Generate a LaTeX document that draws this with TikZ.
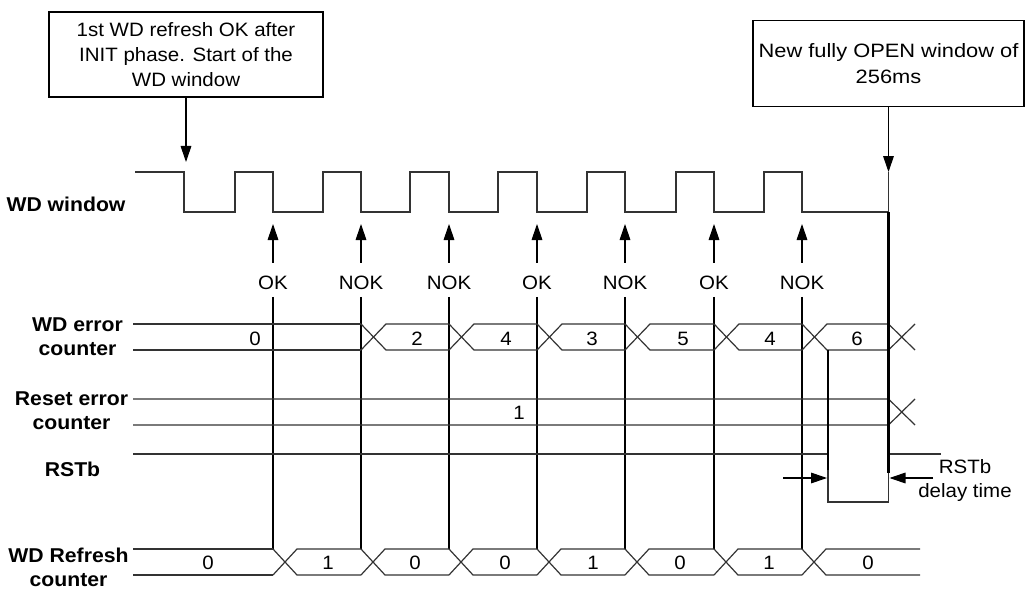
\documentclass[tikz,border=0pt]{standalone}
\usepackage{fontspec}
\setmainfont{Liberation Sans}[FakeStretch=1.06]
\newfontfamily\widefont{Liberation Sans}[FakeStretch=1.13]
\usetikzlibrary{arrows.meta}
\begin{document}
\begin{tikzpicture}[x=0.75pt,y=-0.75pt,
  sig/.style={line width=0.9pt, draw=black!80, line join=miter},
  vline/.style={line width=1.7pt, draw=black},
  arr/.style={-{Triangle[length=12pt,width=8pt]}, line width=0.8pt, draw=black},
  lab/.style={font=\fontsize{15}{18}\selectfont\bfseries, align=center, inner sep=0pt},
  txt/.style={font=\fontsize{14.5}{18}\selectfont, inner sep=0pt},
  box/.style={draw, line width=0.8pt, align=center, inner sep=0pt,
    font=\fontsize{14.5}{18.75}\selectfont}
]
\useasboundingbox (0,0) rectangle (1029,592);

% callout boxes
\node[box, minimum width=205.5pt, minimum height=63.75pt] (b1) at (186,54.5)
  {1st WD refresh OK after\\INIT phase. Start of the\\WD window};
\node[box, minimum width=203.25pt, minimum height=64.5pt,
  font=\fontsize{14.5}{19.5}\selectfont\widefont] (b2) at (888.5,63.7)
  {New fully OPEN window of\\256ms};
\coordinate (t1) at (186,162);
\coordinate (t2) at (888.5,172);
\draw[arr] (b1.south) -- (t1);
\draw[arr] (b2.south) -- (t2);

% row labels
\node[lab] (lw) at (66,204) {WD window};
\node[lab] (le) at (77.5,337) {WD error\\counter};
\node[lab] (lr) at (71.5,410.5) {Reset error\\counter};
\node[lab] (ls) at (72.5,469) {RSTb};
\node[lab] (lf) at (68.5,567) {WD Refresh\\counter};

% WD window signal
\draw[sig] (135,172) -- (184,172) -- (184,212) -- (235,212) -- (235,172)
  -- (273,172) -- (273,212) -- (323,212) -- (323,172) -- (361,172) -- (361,212)
  -- (410,212) -- (410,172) -- (449,172) -- (449,212) -- (498,212) -- (498,172)
  -- (537,172) -- (537,212) -- (587,212) -- (587,172) -- (625,172) -- (625,212)
  -- (676,212) -- (676,172) -- (714,172) -- (714,212) -- (764,212) -- (764,172)
  -- (802,172) -- (802,212) -- (888.5,212) -- (888.5,172);

% OK / NOK markers
\foreach \x/\l [count=\i] in {273/OK,361/NOK,449/NOK,537/OK,625/NOK,714/OK,802/NOK}{
  \node[txt] (m\i) at (\x,283) {\l};
  \coordinate (u\i) at (\x,224);
  \coordinate (d\i) at (\x,549);
  \draw[arr, shorten <=9.75pt] (m\i.north) -- (u\i);
  \draw[vline, shorten <=5pt] (m\i.south) -- (d\i);
}

% WD error counter bus
\draw[sig] (133,324) -- (361,324);
\draw[sig] (133,350) -- (361,350);
\foreach \a/\b in {361/449,449/537,537/625,625/714,714/802,802/888.5}{
  \draw[sig] (\a,324) -- (\a+25,350) -- (\b,350);
  \draw[sig] (\a,350) -- (\a+25,324) -- (\b,324);
}
\draw[sig] (888.5,324) -- (915,350);
\draw[sig] (888.5,350) -- (915,324);
\foreach \x/\v in {255/0,417/2,506/4,592/3,683/5,770/4,857/6}{
  \node[txt] at (\x,338.5) {\v};
}

% Reset error counter bus
\draw[sig] (133,399) -- (888.5,399) -- (915,425);
\draw[sig] (133,425) -- (888.5,425) -- (915,399);
\node[txt] at (519,412.5) {1};

% RSTb
\draw[sig] (133,454) -- (828,454) -- (828,502) -- (888.5,502) -- (888.5,454) -- (941,454);
\draw[vline] (828,350) -- (828,470);
\draw[vline] (888.5,212) -- (888.5,473);
\coordinate (dl) at (783,478);
\coordinate (dlt) at (827,478);
\coordinate (dr) at (933,478);
\coordinate (drt) at (889.5,478);
\draw[arr] (dl) -- (dlt);
\draw[arr] (dr) -- (drt);
\node[txt, align=center] (dt) at (965,480) {RSTb\\delay time};

% WD Refresh counter bus
\draw[sig] (133,549) -- (273,549);
\draw[sig] (133,575) -- (273,575);
\foreach \a/\b in {273/361,361/449,449/537,537/625,625/714,714/802,802/920}{
  \draw[sig] (\a,549) -- (\a+24,575) -- (\b,575);
  \draw[sig] (\a,575) -- (\a+24,549) -- (\b,549);
}
\foreach \x/\v in {208/0,328/1,415/0,505/0,593/1,680/0,769/1,868/0}{
  \node[txt] at (\x,562.5) {\v};
}
\end{tikzpicture}
\end{document}
